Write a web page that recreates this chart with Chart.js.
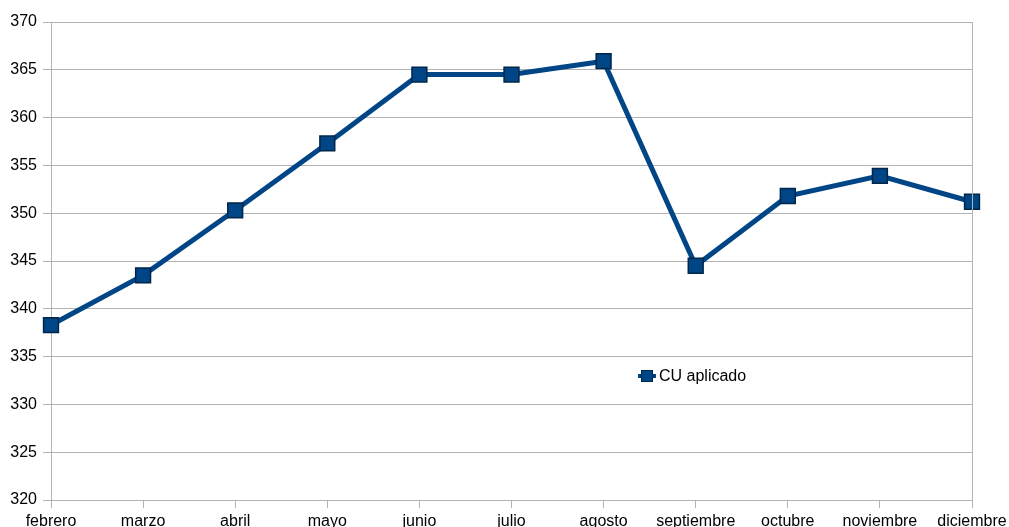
<!DOCTYPE html>
<html><head><meta charset="utf-8">
<script src="https://cdn.jsdelivr.net/npm/chart.js@4/dist/chart.umd.min.js"></script>
<style>
html,body{margin:0;padding:0;background:#fff;overflow:hidden;}
#wrap{position:relative;width:1009px;height:527px;}
#legend{position:absolute;left:638px;top:367px;font:16px "Liberation Sans",Arial,sans-serif;color:#000;display:flex;align-items:center;}
#legend .sw{position:relative;width:18px;height:14px;margin-right:3px;}
#legend .sw .ln{position:absolute;left:0;top:5px;width:18px;height:4px;background:#004586;}
#legend .sw .sq{position:absolute;left:3px;top:1px;width:10px;height:10px;background:#004586;border:1px solid #00264a;}
</style></head>
<body><div id="wrap"><canvas id="c" width="1009" height="527"></canvas>
<div id="legend"><div class="sw"><div class="ln"></div><div class="sq"></div></div><span>CU aplicado</span></div></div>
<script>
const categories = ["febrero","marzo","abril","mayo","junio","julio","agosto","septiembre","octubre","noviembre","diciembre"];
const cuAplicado = [338.3, 343.5, 350.3, 357.3, 364.5, 364.5, 365.9, 344.5, 351.8, 353.9, 351.2];
const seriesName = "CU aplicado";

const rightBorder = {
  id:'rightBorder',
  afterDraw(chart){
    const {ctx, chartArea:a} = chart;
    ctx.save(); ctx.strokeStyle='#b3b3b3'; ctx.lineWidth=1;
    ctx.beginPath(); ctx.moveTo(Math.round(a.right)+0.5, a.top); ctx.lineTo(Math.round(a.right)+0.5, a.bottom+8); ctx.stroke();
    ctx.restore();
  }
};

new Chart(document.getElementById('c'), {
  type:'line',
  data:{labels:categories, datasets:[{
    label:seriesName, data:cuAplicado,
    borderColor:'#004586', borderWidth:5, backgroundColor:'#004586',
    pointStyle:'rect', pointRadius:10.5, pointHoverRadius:10.5,
    pointBackgroundColor:'#004586', pointBorderColor:'#00264a', pointBorderWidth:1.5,
    tension:0, fill:false
  }]},
  options:{
    responsive:false, animation:false, devicePixelRatio:1,
    layout:{padding:{top:22,right:37,left:0,bottom:0}},
    plugins:{legend:{display:false}, tooltip:{enabled:false}},
    scales:{
      x:{
        offset:false,
        grid:{display:true, drawOnChartArea:false, drawTicks:true, tickLength:8, color:'#b3b3b3'},
        border:{display:true, color:'#b3b3b3'},
        ticks:{autoSkip:false, maxRotation:0, minRotation:0, padding:4, color:'#000', font:{family:'"Liberation Sans", Arial, sans-serif', size:16}},
        afterFit(s){ s.height = 27; s.paddingRight = 0; s.paddingLeft = 0; }
      },
      y:{
        min:320, max:370,
        grid:{color:'#b3b3b3', tickLength:8, drawTicks:true},
        border:{display:true, color:'#b3b3b3'},
        ticks:{stepSize:5, padding:6, color:'#000', font:{family:'"Liberation Sans", Arial, sans-serif', size:16}},
        afterFit(s){ s.width = 51; s.paddingTop = 0; s.paddingBottom = 0; }
      }
    }
  },
  plugins:[rightBorder]
});
</script></body></html>
